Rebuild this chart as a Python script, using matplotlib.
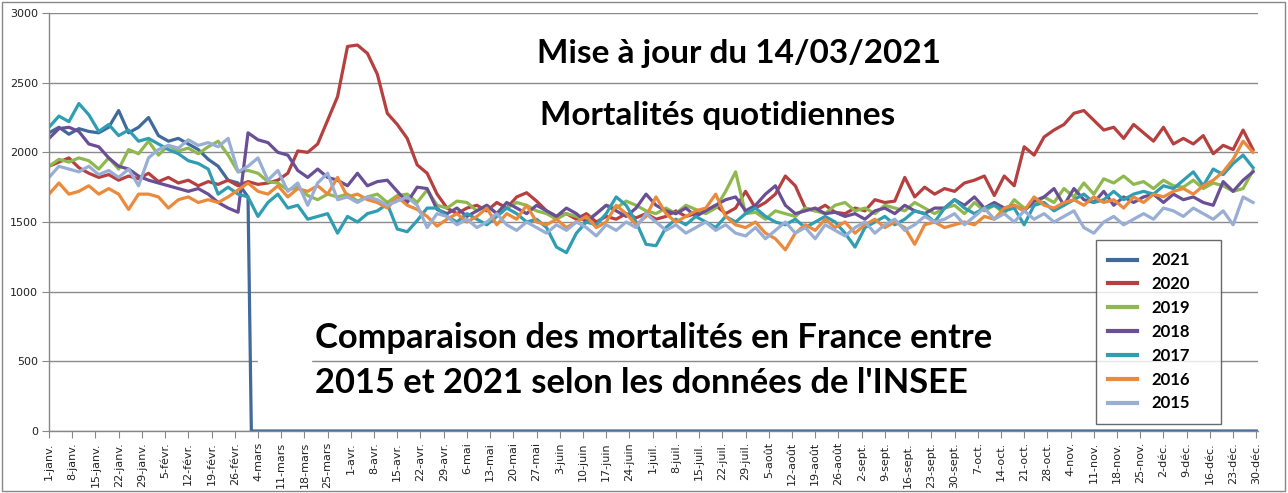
import numpy as np
import matplotlib
matplotlib.use('Agg')
import matplotlib.pyplot as plt
from matplotlib.patches import Rectangle

# day index (0 = 1 janv.), one reading every 3 days
DAYS = np.arange(0, 364, 3)

TICK_LABELS = ['1-janv.', '8-janv.', '15-janv.', '22-janv.', '29-janv.', '5-févr.', '12-févr.',
               '19-févr.', '26-févr.', '4-mars', '11-mars', '18-mars', '25-mars', '1-avr.',
               '8-avr.', '15-avr.', '22-avr.', '29-avr.', '6-mai', '13-mai', '20-mai', '27-mai',
               '3-juin', '10-juin', '17-juin', '24-juin', '1-juil.', '8-juil.', '15-juil.',
               '22-juil.', '29-juil.', '5-août', '12-août', '19-août', '26-août', '2-sept.',
               '9-sept.', '16-sept.', '23-sept.', '30-sept.', '7-oct.', '14-oct.', '21-oct.',
               '28-oct.', '4-nov.', '11-nov.', '18-nov.', '25-nov.', '2-déc.', '9-déc.',
               '16-déc.', '23-déc.', '30-déc.']

# 2021: only known up to early March, then zeros
days_2021 = list(range(0, 61, 3)) + [61, 364]
deaths_2021 = [2140, 2180, 2130, 2170, 2150, 2140, 2180, 2300, 2140, 2180,
               2250, 2120, 2080, 2100, 2060, 2020, 1950, 1900, 1800, 1780,
               1680, 0, 0]

deaths_2020 = [1900, 1930, 1960, 1890, 1850, 1820, 1840, 1800, 1830, 1810,
               1850, 1790, 1820, 1780, 1800, 1760, 1790, 1770, 1800, 1760,
               1790, 1770, 1780, 1800, 1850, 2010, 2000, 2060, 2230, 2400,
               2760, 2770, 2710, 2560, 2280, 2200, 2100, 1910, 1850, 1700,
               1600, 1560, 1600, 1620, 1580, 1640, 1600, 1680, 1710, 1650,
               1580, 1540, 1560, 1520, 1560, 1500, 1540, 1520, 1560, 1530,
               1560, 1520, 1540, 1580, 1540, 1560, 1580, 1620, 1560, 1600,
               1720, 1600, 1640, 1700, 1830, 1760, 1600, 1580, 1620, 1570,
               1560, 1600, 1580, 1660, 1640, 1650, 1820, 1680, 1750, 1700,
               1740, 1720, 1780, 1800, 1830, 1690, 1830, 1760, 2040, 1980,
               2110, 2160, 2200, 2280, 2300, 2230, 2160, 2180, 2100, 2200,
               2140, 2080, 2180, 2060, 2100, 2060, 2120, 1990, 2050, 2020, 2160, 2020]

deaths_2019 = [1900, 1950, 1930, 1960, 1940, 1880, 1960, 1880, 2020, 1990,
               2080, 1980, 2050, 2010, 2030, 1990, 2040, 2080, 1980, 1860,
               1870, 1850, 1790, 1780, 1730, 1750, 1690, 1660, 1700, 1680,
               1700, 1650, 1680, 1700, 1640, 1690, 1700, 1640, 1730, 1620,
               1600, 1650, 1640, 1580, 1620, 1560, 1600, 1640, 1620, 1580,
               1560, 1520, 1560, 1540, 1510, 1560, 1620, 1600, 1650, 1620,
               1580, 1560, 1600, 1560, 1620, 1590, 1560, 1600, 1720, 1860,
               1560, 1570, 1520, 1580, 1560, 1540, 1600, 1580, 1560, 1620,
               1640, 1580, 1600, 1560, 1620, 1600, 1580, 1640, 1600, 1560,
               1600, 1620, 1560, 1640, 1580, 1620, 1560, 1660, 1600, 1620,
               1680, 1640, 1740, 1680, 1780, 1700, 1810, 1780, 1830, 1770,
               1790, 1740, 1800, 1760, 1750, 1800, 1740, 1780, 1760, 1720, 1740, 1870]

deaths_2018 = [2100, 2170, 2180, 2150, 2060, 2040, 1960, 1900, 1880, 1830,
               1800, 1780, 1760, 1740, 1720, 1740, 1700, 1640, 1600, 1570,
               2140, 2090, 2070, 2000, 1980, 1870, 1820, 1880, 1820, 1800,
               1760, 1850, 1760, 1790, 1800, 1720, 1640, 1750, 1740, 1590,
               1560, 1600, 1540, 1580, 1620, 1560, 1640, 1600, 1560, 1620,
               1580, 1540, 1600, 1560, 1500, 1560, 1620, 1580, 1540, 1600,
               1700, 1620, 1580, 1560, 1600, 1540, 1580, 1620, 1660, 1680,
               1580, 1620, 1700, 1760, 1620, 1560, 1580, 1600, 1560, 1570,
               1540, 1560, 1520, 1580, 1600, 1560, 1620, 1580, 1560, 1600,
               1600, 1660, 1620, 1680, 1600, 1640, 1600, 1620, 1580, 1650,
               1680, 1740, 1620, 1740, 1660, 1640, 1720, 1620, 1680, 1640,
               1680, 1700, 1640, 1700, 1660, 1680, 1640, 1620, 1790, 1720, 1800, 1860]

deaths_2017 = [2180, 2260, 2220, 2350, 2270, 2150, 2200, 2120, 2160, 2080,
               2100, 2060, 2020, 1990, 1940, 1920, 1880, 1700, 1750, 1700,
               1680, 1540, 1640, 1700, 1600, 1620, 1520, 1540, 1560, 1420,
               1540, 1500, 1560, 1580, 1630, 1450, 1430, 1510, 1600, 1600,
               1540, 1500, 1560, 1520, 1480, 1540, 1600, 1560, 1500, 1520,
               1460, 1320, 1280, 1420, 1500, 1480, 1560, 1680, 1620, 1500,
               1340, 1330, 1460, 1520, 1480, 1540, 1500, 1460, 1540, 1500,
               1560, 1600, 1540, 1500, 1480, 1520, 1460, 1500, 1540, 1500,
               1420, 1320, 1460, 1500, 1540, 1480, 1520, 1580, 1560, 1500,
               1600, 1660, 1600, 1560, 1600, 1620, 1580, 1600, 1480, 1620,
               1640, 1580, 1620, 1660, 1700, 1640, 1660, 1720, 1660, 1700,
               1720, 1700, 1760, 1740, 1800, 1860, 1760, 1880, 1840, 1920, 1980, 1890]

deaths_2016 = [1700, 1780, 1700, 1720, 1760, 1700, 1740, 1700, 1590, 1700,
               1700, 1680, 1600, 1660, 1680, 1640, 1660, 1640, 1680, 1730,
               1780, 1720, 1700, 1760, 1680, 1740, 1720, 1760, 1700, 1820,
               1680, 1700, 1660, 1640, 1600, 1680, 1620, 1590, 1540, 1470,
               1520, 1560, 1500, 1540, 1600, 1480, 1560, 1520, 1620, 1500,
               1480, 1520, 1460, 1500, 1540, 1460, 1500, 1620, 1560, 1480,
               1540, 1680, 1560, 1500, 1540, 1580, 1600, 1700, 1540, 1480,
               1460, 1500, 1420, 1380, 1300, 1420, 1480, 1440, 1520, 1460,
               1500, 1420, 1480, 1520, 1460, 1500, 1460, 1340, 1480, 1500,
               1460, 1480, 1500, 1480, 1540, 1520, 1600, 1620, 1580, 1680,
               1620, 1600, 1640, 1660, 1620, 1680, 1640, 1660, 1600, 1680,
               1640, 1700, 1680, 1720, 1740, 1700, 1760, 1800, 1860, 1950, 2080, 2000]

deaths_2015 = [1820, 1900, 1880, 1860, 1900, 1840, 1870, 1820, 1880, 1760,
               1960, 2020, 2050, 2030, 2090, 2050, 2070, 2040, 2100, 1860,
               1900, 1960, 1800, 1870, 1720, 1780, 1620, 1780, 1850, 1660,
               1680, 1640, 1680, 1660, 1620, 1650, 1680, 1620, 1460, 1560,
               1540, 1480, 1520, 1460, 1500, 1560, 1480, 1440, 1500, 1460,
               1420, 1480, 1440, 1500, 1460, 1400, 1480, 1440, 1500, 1460,
               1560, 1500, 1440, 1480, 1420, 1460, 1500, 1440, 1480, 1420,
               1400, 1460, 1380, 1440, 1500, 1420, 1460, 1380, 1480, 1440,
               1400, 1460, 1500, 1420, 1480, 1520, 1440, 1480, 1540, 1500,
               1520, 1560, 1480, 1540, 1600, 1520, 1560, 1500, 1580, 1520,
               1560, 1500, 1540, 1580, 1460, 1420, 1500, 1540, 1480, 1520,
               1560, 1520, 1600, 1580, 1540, 1600, 1560, 1520, 1580, 1480, 1680, 1640]

series = [
    ('2021', days_2021, deaths_2021, '#41699A'),
    ('2020', DAYS, deaths_2020, '#B5403F'),
    ('2019', DAYS, deaths_2019, '#8FB84E'),
    ('2018', DAYS, deaths_2018, '#6A4F96'),
    ('2017', DAYS, deaths_2017, '#2F9DB2'),
    ('2016', DAYS, deaths_2016, '#EB8A3C'),
    ('2015', DAYS, deaths_2015, '#98AED4'),
]

fig = plt.figure(figsize=(12.88, 4.93), dpi=100)
ax = fig.add_axes([49 / 1288, 1 - 431 / 493, 1209 / 1288, 418 / 493])

for name, x, y, col in series:
    ax.plot(x, y, color=col, lw=2.3, label=name, solid_joinstyle='round', zorder=2)

ax.set_xlim(0, 364.5)
ax.set_ylim(0, 3000)
ax.set_yticks(range(0, 3001, 500))
ax.set_xticks(range(0, 365, 7))
ax.set_xticklabels(TICK_LABELS, rotation=90, fontsize=8, color='#222222')
ax.tick_params(axis='y', labelsize=8, labelcolor='#222222', length=5, color='#888888', pad=3)
ax.tick_params(axis='x', length=5, color='#888888', pad=3)
ax.set_axisbelow(True)
ax.grid(axis='y', color='#8a8a8a', lw=1)
for s in ['top', 'right']:
    ax.spines[s].set_visible(False)
for s in ['left', 'bottom']:
    ax.spines[s].set_color('#888888')
    ax.spines[s].set_linewidth(1)

# little white patch hiding the 500 gridline under the text block
ax.add_patch(Rectangle((63, 470), 16, 60, color='white', zorder=1))

txt = dict(family='Lato', weight='bold', color='black')
fig.text(537 / 1288, 1 - 63 / 493, 'Mise à jour du 14/03/2021', va='baseline', fontsize=24, **txt)
fig.text(540 / 1288, 1 - 125 / 493, 'Mortalités quotidiennes', va='baseline', fontsize=24, **txt)
fig.text(315 / 1288, 1 - 348 / 493, 'Comparaison des mortalités en France entre', va='baseline',
         fontsize=24.8, **txt)
fig.text(315 / 1288, 1 - 393 / 493, "2015 et 2021 selon les données de l'INSEE", va='baseline',
         fontsize=24.8, **txt)

leg = ax.legend(loc='upper left', bbox_to_anchor=(0.866, 0.0215, 0.103, 0.4355), mode='expand',
                borderaxespad=0, frameon=True, fancybox=False, handlelength=1.7,
                handletextpad=0.85, labelspacing=0.47, borderpad=0.75,
                prop={'family': 'Lato', 'weight': 'bold', 'size': 12})
leg.get_frame().set_edgecolor('#444444')
leg.get_frame().set_linewidth(1)
for h in leg.get_lines():
    h.set_linewidth(3)

# outer border of the picture
fig.patches.append(Rectangle((2 / 1288, 2 / 493), 1283 / 1288, 489 / 493, transform=fig.transFigure,
                             fill=False, edgecolor='#888888', lw=1))

fig.savefig('out.png', dpi=100)
